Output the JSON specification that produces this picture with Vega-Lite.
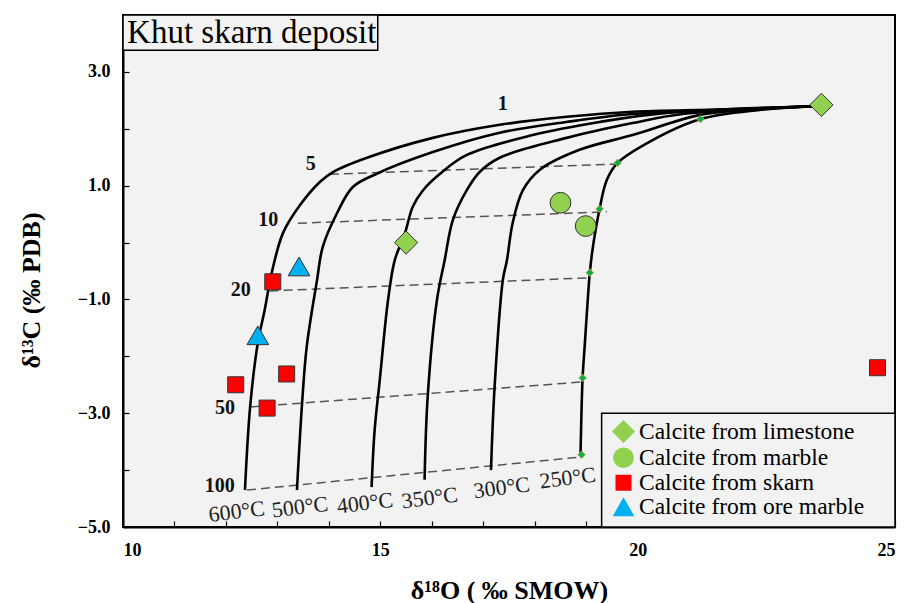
{
  "$schema": "https://vega.github.io/schema/vega-lite/v6.json",
  "width": 772,
  "height": 512,
  "autosize": "none",
  "padding": {"left": 123, "top": 15, "right": 11, "bottom": 76},
  "background": "white",
  "config": {
    "view": {"fill": "#f2f2f2", "stroke": "#000", "strokeWidth": 2},
    "font": "Liberation Serif",
    "axis": {
      "grid": false, "domainColor": "#000", "domainWidth": 2, "tickColor": "#000", "tickWidth": 1.2,
      "labelFont": "Liberation Serif", "labelFontWeight": "bold", "labelFontSize": 18, "labelColor": "#000",
      "titleFont": "Liberation Serif", "titleFontWeight": "bold", "titleFontSize": 26, "titleColor": "#000", "zindex": 1
    },
    "legend": {
      "orient": "none", "legendX": 488, "legendY": 404, "padding": 0,
      "labelFont": "Liberation Serif", "labelFontSize": 23.5, "labelColor": "#000", "labelLimit": 400,
      "symbolStrokeColor": "#333", "symbolStrokeWidth": 1, "rowPadding": -1.5, "labelOffset": 3, "symbolOffset": 0
    }
  },
  "datasets": {
    "curves": [
      {"curve": "600", "i": 0, "x": 23.57, "y": 2.40}, {"curve": "600", "i": 1, "x": 21.59, "y": 2.34}, {"curve": "600", "i": 2, "x": 19.90, "y": 2.30},
      {"curve": "600", "i": 3, "x": 18.62, "y": 2.21}, {"curve": "600", "i": 4, "x": 17.32, "y": 2.07}, {"curve": "600", "i": 5, "x": 16.02, "y": 1.84},
      {"curve": "600", "i": 6, "x": 14.74, "y": 1.49}, {"curve": "600", "i": 7, "x": 14.08, "y": 1.24}, {"curve": "600", "i": 8, "x": 13.83, "y": 1.07},
      {"curve": "600", "i": 9, "x": 13.44, "y": 0.66}, {"curve": "600", "i": 10, "x": 13.11, "y": 0.17}, {"curve": "600", "i": 11, "x": 12.89, "y": -0.53},
      {"curve": "600", "i": 12, "x": 12.75, "y": -1.20}, {"curve": "600", "i": 13, "x": 12.62, "y": -1.76}, {"curve": "600", "i": 14, "x": 12.47, "y": -2.89},
      {"curve": "600", "i": 15, "x": 12.37, "y": -4.35},

      {"curve": "500", "i": 0, "x": 23.57, "y": 2.40}, {"curve": "500", "i": 1, "x": 21.59, "y": 2.32}, {"curve": "500", "i": 2, "x": 19.90, "y": 2.26},
      {"curve": "500", "i": 3, "x": 18.62, "y": 2.12}, {"curve": "500", "i": 4, "x": 17.32, "y": 1.93}, {"curve": "500", "i": 5, "x": 16.02, "y": 1.59},
      {"curve": "500", "i": 6, "x": 14.93, "y": 1.21}, {"curve": "500", "i": 7, "x": 14.47, "y": 0.98}, {"curve": "500", "i": 8, "x": 14.16, "y": 0.52},
      {"curve": "500", "i": 9, "x": 13.88, "y": -0.08}, {"curve": "500", "i": 10, "x": 13.77, "y": -0.66}, {"curve": "500", "i": 11, "x": 13.57, "y": -1.83},
      {"curve": "500", "i": 12, "x": 13.48, "y": -2.82}, {"curve": "500", "i": 13, "x": 13.38, "y": -4.35},

      {"curve": "400", "i": 0, "x": 23.57, "y": 2.40}, {"curve": "400", "i": 1, "x": 20.56, "y": 2.28}, {"curve": "400", "i": 2, "x": 19.26, "y": 2.12},
      {"curve": "400", "i": 3, "x": 17.96, "y": 1.89}, {"curve": "400", "i": 4, "x": 16.68, "y": 1.54}, {"curve": "400", "i": 5, "x": 16.16, "y": 1.21},
      {"curve": "400", "i": 6, "x": 15.83, "y": 0.92}, {"curve": "400", "i": 7, "x": 15.63, "y": 0.63}, {"curve": "400", "i": 8, "x": 15.48, "y": 0.17},
      {"curve": "400", "i": 9, "x": 15.28, "y": -0.31}, {"curve": "400", "i": 10, "x": 15.15, "y": -1.01}, {"curve": "400", "i": 11, "x": 14.99, "y": -2.41},
      {"curve": "400", "i": 12, "x": 14.89, "y": -3.29}, {"curve": "400", "i": 13, "x": 14.83, "y": -4.30},

      {"curve": "350", "i": 0, "x": 23.57, "y": 2.40}, {"curve": "350", "i": 1, "x": 20.87, "y": 2.26}, {"curve": "350", "i": 2, "x": 19.90, "y": 2.10},
      {"curve": "350", "i": 3, "x": 18.62, "y": 1.84}, {"curve": "350", "i": 4, "x": 17.32, "y": 1.49}, {"curve": "350", "i": 5, "x": 16.93, "y": 1.24},
      {"curve": "350", "i": 6, "x": 16.68, "y": 0.92}, {"curve": "350", "i": 7, "x": 16.41, "y": 0.40}, {"curve": "350", "i": 8, "x": 16.25, "y": -0.31},
      {"curve": "350", "i": 9, "x": 16.10, "y": -1.01}, {"curve": "350", "i": 10, "x": 15.92, "y": -2.71}, {"curve": "350", "i": 11, "x": 15.86, "y": -4.17},

      {"curve": "300", "i": 0, "x": 23.57, "y": 2.40}, {"curve": "300", "i": 1, "x": 22.40, "y": 2.35}, {"curve": "300", "i": 2, "x": 21.20, "y": 2.24},
      {"curve": "300", "i": 3, "x": 19.90, "y": 1.89}, {"curve": "300", "i": 4, "x": 18.87, "y": 1.63}, {"curve": "300", "i": 5, "x": 18.10, "y": 1.28},
      {"curve": "300", "i": 6, "x": 17.77, "y": 0.92}, {"curve": "300", "i": 7, "x": 17.57, "y": 0.34}, {"curve": "300", "i": 8, "x": 17.46, "y": -0.31},
      {"curve": "300", "i": 9, "x": 17.38, "y": -0.66}, {"curve": "300", "i": 10, "x": 17.22, "y": -2.54}, {"curve": "300", "i": 11, "x": 17.15, "y": -4.00},

      {"curve": "250", "i": 0, "x": 23.57, "y": 2.40}, {"curve": "250", "i": 1, "x": 22.37, "y": 2.33}, {"curve": "250", "i": 2, "x": 21.22, "y": 2.17},
      {"curve": "250", "i": 3, "x": 20.23, "y": 1.77}, {"curve": "250", "i": 4, "x": 19.61, "y": 1.40}, {"curve": "250", "i": 5, "x": 19.40, "y": 1.10},
      {"curve": "250", "i": 6, "x": 19.26, "y": 0.59}, {"curve": "250", "i": 7, "x": 19.13, "y": -0.08}, {"curve": "250", "i": 8, "x": 19.07, "y": -0.53},
      {"curve": "250", "i": 9, "x": 19.03, "y": -1.01}, {"curve": "250", "i": 10, "x": 18.97, "y": -1.83}, {"curve": "250", "i": 11, "x": 18.93, "y": -2.38},
      {"curve": "250", "i": 12, "x": 18.89, "y": -3.73}
    ],
    "dashes": [
      {"wr": "5", "i": 0, "x": 14.02, "y": 1.20}, {"wr": "5", "i": 1, "x": 19.61, "y": 1.38},
      {"wr": "10", "i": 0, "x": 13.40, "y": 0.34}, {"wr": "10", "i": 1, "x": 19.40, "y": 0.54},
      {"wr": "20", "i": 0, "x": 12.85, "y": -0.85}, {"wr": "20", "i": 1, "x": 19.03, "y": -0.62},
      {"wr": "50", "i": 0, "x": 12.47, "y": -2.89}, {"wr": "50", "i": 1, "x": 18.93, "y": -2.45},
      {"wr": "100", "i": 0, "x": 12.41, "y": -4.35}, {"wr": "100", "i": 1, "x": 18.89, "y": -3.77}
    ],
    "dots": [
      {"x": 21.22, "y": 2.17}, {"x": 19.61, "y": 1.40}, {"x": 19.26, "y": 0.59},
      {"x": 19.07, "y": -0.53}, {"x": 18.93, "y": -2.38}, {"x": 18.91, "y": -3.73}
    ],
    "samples": [
      {"type": "Calcite from limestone", "x": 23.57, "y": 2.42},
      {"type": "Calcite from limestone", "x": 15.50, "y": 0.00},
      {"type": "Calcite from marble", "x": 18.50, "y": 0.70},
      {"type": "Calcite from marble", "x": 18.99, "y": 0.29},
      {"type": "Calcite from skarn", "x": 12.91, "y": -0.69},
      {"type": "Calcite from skarn", "x": 12.19, "y": -2.50},
      {"type": "Calcite from skarn", "x": 13.18, "y": -2.31},
      {"type": "Calcite from skarn", "x": 12.80, "y": -2.91},
      {"type": "Calcite from skarn", "x": 24.66, "y": -2.20},
      {"type": "Calcite from ore marble", "x": 13.42, "y": -0.42},
      {"type": "Calcite from ore marble", "x": 12.62, "y": -1.63}
    ],
    "wrlabels": [
      {"label": "1", "x": 17.38, "y": 2.44},
      {"label": "5", "x": 13.65, "y": 1.38},
      {"label": "10", "x": 12.82, "y": 0.40},
      {"label": "20", "x": 12.29, "y": -0.83},
      {"label": "50", "x": 11.98, "y": -2.91},
      {"label": "100", "x": 11.88, "y": -4.28}
    ],
    "templabels": [
      {"label": "600°C", "x": 12.21, "y": -4.73},
      {"label": "500°C", "x": 13.44, "y": -4.65},
      {"label": "400°C", "x": 14.70, "y": -4.58},
      {"label": "350°C", "x": 15.96, "y": -4.49},
      {"label": "300°C", "x": 17.36, "y": -4.31},
      {"label": "250°C", "x": 18.64, "y": -4.14}
    ],
    "titlebox": [
      {"label": "Khut skarn deposit", "x": 10.0, "x2": 14.95, "y": 4.0, "y2": 3.38, "tx": 10.08, "ty": 3.69}
    ],
    "legendbox": [
      {"x": 19.30, "x2": 25.0, "y": -3.0, "y2": -5.0}
    ]
  },
  "encoding": {
    "x": {
      "field": "x", "type": "quantitative",
      "scale": {"domain": [10, 25], "nice": false, "zero": false},
      "axis": {
        "title": "δ¹⁸O ( ‰  SMOW)",
        "values": [10, 11, 12, 13, 14, 15, 16, 17, 18, 19, 20, 21, 22, 23, 24, 25],
        "labelExpr": "datum.value % 5 === 0 ? datum.label : ''",
        "tickSize": -6, "labelPadding": 20, "titleY": 71, "titleBaseline": "alphabetic"
      }
    },
    "y": {
      "field": "y", "type": "quantitative",
      "scale": {"domain": [-5, 4], "nice": false, "zero": false},
      "axis": {
        "title": "δ¹³C (‰ PDB)",
        "values": [-5, -4, -3, -2, -1, 0, 1, 2, 3, 4],
        "format": ".1f",
        "labelExpr": "abs(datum.value) % 2 === 1 ? datum.label : ''",
        "tickSize": -6, "labelPadding": 19, "titleX": -92, "titleY": 275, "titleBaseline": "middle", "titleAlign": "center", "titleAngle": -90
      }
    }
  },
  "layer": [
    {
      "data": {"name": "titlebox"},
      "mark": {"type": "rect", "fill": "#f2f2f2", "stroke": "#000", "strokeWidth": 1.5},
      "encoding": {"x2": {"field": "x2"}, "y2": {"field": "y2"}}
    },
    {
      "data": {"name": "legendbox"},
      "mark": {"type": "rect", "fill": "#f2f2f2", "stroke": "#000", "strokeWidth": 1.5},
      "encoding": {"x2": {"field": "x2"}, "y2": {"field": "y2"}}
    },
    {
      "data": {"name": "dashes"},
      "mark": {"type": "line", "color": "#555", "strokeWidth": 1.5, "strokeDash": [9, 5]},
      "encoding": {"detail": {"field": "wr"}, "order": {"field": "i"}}
    },
    {
      "data": {"name": "curves"},
      "mark": {"type": "line", "color": "#000", "strokeWidth": 2.6, "interpolate": "catmull-rom"},
      "encoding": {"detail": {"field": "curve"}, "order": {"field": "i"}}
    },
    {
      "data": {"name": "dots"},
      "mark": {"type": "point", "shape": "diamond", "filled": true, "fill": "#00b050", "stroke": "#f0a040", "strokeWidth": 0.8, "size": 60, "opacity": 1}
    },
    {
      "data": {"name": "samples"},
      "mark": {"type": "point", "filled": true, "stroke": "#333", "strokeWidth": 1, "opacity": 1},
      "encoding": {
        "fill": {
          "field": "type", "type": "nominal", "title": null,
          "scale": {
            "domain": ["Calcite from limestone", "Calcite from marble", "Calcite from skarn", "Calcite from ore marble"],
            "range": ["#92d050", "#92d050", "#ff0000", "#00b0f0"]
          }
        },
        "shape": {
          "field": "type", "type": "nominal", "title": null,
          "scale": {
            "domain": ["Calcite from limestone", "Calcite from marble", "Calcite from skarn", "Calcite from ore marble"],
            "range": ["diamond", "circle", "square", "triangle-up"]
          }
        },
        "size": {
          "field": "type", "type": "nominal", "title": null,
          "scale": {
            "type": "ordinal",
            "domain": ["Calcite from limestone", "Calcite from marble", "Calcite from skarn", "Calcite from ore marble"],
            "range": [540, 430, 256, 470]
          }
        }
      }
    },
    {
      "data": {"name": "wrlabels"},
      "mark": {"type": "text", "font": "Liberation Serif", "fontWeight": "bold", "fontSize": 20, "color": "#111", "align": "center", "baseline": "middle"},
      "encoding": {"text": {"field": "label"}}
    },
    {
      "data": {"name": "templabels"},
      "mark": {"type": "text", "font": "Liberation Serif", "fontSize": 22, "color": "#222", "align": "center", "baseline": "middle", "angle": -7},
      "encoding": {"text": {"field": "label"}}
    },
    {
      "data": {"name": "titlebox"},
      "mark": {"type": "text", "font": "Liberation Serif", "fontSize": 33, "color": "#000", "align": "left", "baseline": "middle"},
      "encoding": {"x": {"field": "tx", "type": "quantitative"}, "y": {"field": "ty", "type": "quantitative"}, "text": {"field": "label"}}
    }
  ]
}
